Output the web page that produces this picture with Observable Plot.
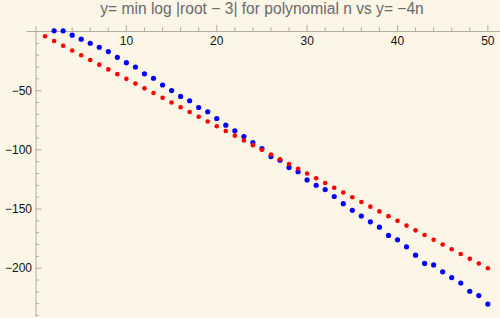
<!DOCTYPE html>
<html>
<head>
<meta charset="utf-8">
<script src="https://cdn.jsdelivr.net/npm/d3@7"></script>
<script src="https://cdn.jsdelivr.net/npm/@observablehq/plot@0.6"></script>
<style>
  html, body { margin: 0; padding: 0; background: #fdf5e6; }
  #wrap { position: relative; width: 500px; height: 318px; overflow: hidden; }
  #title { position: absolute; left: 0; top: 0px; width: 524px; text-align: center;
           font: 15.6px "Liberation Sans", Arial, sans-serif; color: #6a6a6a; white-space: nowrap; }
</style>
</head>
<body>
<div id="wrap"><div id="title">y= min log |root − 3| for polynomial n vs y= −4n</div></div>
<script>
const titleText = "y= min log |root − 3| for polynomial n vs y= −4n";

const blueN = [2,3,4,5,6,7,8,9,10,11,12,13,14,15,16,17,18,19,20,21,22,23,24,25,26,27,28,29,30,31,32,33,34,35,36,37,38,39,40,41,42,43,44,45,46,47,48,49,50];
const blueY = [0.6,0.6,-3.1,-6.5,-9.9,-13.3,-16.9,-21.8,-26.3,-30.0,-35.7,-39.5,-45.2,-49.9,-54.8,-58.5,-64.2,-67.8,-73.5,-79.1,-83.9,-88.7,-93.8,-98.9,-105.7,-108.7,-114.8,-118.4,-125.4,-129.9,-133.6,-139.4,-145.5,-151.1,-155.9,-160.8,-165.3,-172.3,-176.0,-181.9,-189.0,-196.0,-197.2,-203.1,-207.9,-212.5,-219.5,-223.1,-230.3];

const redN = [1,2,3,4,5,6,7,8,9,10,11,12,13,14,15,16,17,18,19,20,21,22,23,24,25,26,27,28,29,30,31,32,33,34,35,36,37,38,39,40,41,42,43,44,45,46,47,48,49,50];
const redY = [-4,-8,-12,-16,-20,-24,-28,-32,-36,-40,-44,-48,-52,-56,-60,-64,-68,-72,-76,-80,-84,-88,-92,-96,-100,-104,-108,-112,-116,-120,-124,-128,-132,-136,-140,-144,-148,-152,-156,-160,-164,-168,-172,-176,-180,-184,-188,-192,-196,-200];

const xMajor = [10,20,30,40,50];
const xMinor = [2,4,6,8,12,14,16,18,22,24,26,28,32,34,36,38,42,44,46,48];
const yMajor = [-50,-100,-150,-200];
const yMinor = [-10,-20,-30,-40,-60,-70,-80,-90,-110,-120,-130,-140,-160,-170,-180,-190,-210,-220,-230,-240];

const blue = blueN.map((n, i) => ({n, y: blueY[i]}));
const red = redN.map((n, i) => ({n, y: redY[i]}));

const axisColor = "#b4ab9d";
const tickColor = "#b4ab9d";
const font = "\"Liberation Sans\", Arial, sans-serif";

const chart = Plot.plot({
  width: 500,
  height: 318,
  marginLeft: 26.5,
  marginRight: 0,
  marginTop: 26.3,
  marginBottom: 1.2,
  style: {background: "transparent", fontFamily: font, overflow: "visible"},
  x: {domain: [-1, 51.4], axis: null},
  y: {domain: [-241.5, 4], axis: null},
  marks: [
    Plot.ruleY([0], {x1: -1, x2: 51.4, stroke: axisColor, strokeWidth: 1}),
    Plot.ruleX([0], {y1: -241.5, y2: 4, stroke: axisColor, strokeWidth: 1}),
    Plot.ruleX(xMajor, {y1: 0, y2: 5.1, stroke: tickColor}),
    Plot.ruleX(xMinor, {y1: 0, y2: 3, stroke: tickColor}),
    Plot.ruleY(yMajor, {x1: 0, x2: 0.66, stroke: tickColor}),
    Plot.ruleY(yMinor, {x1: 0, x2: 0.39, stroke: tickColor}),
    Plot.text(xMajor, {x: d => d, y: 0, text: d => String(d), dy: 10, fontSize: 12, fill: "#111", textAnchor: "middle"}),
    Plot.text(yMajor, {x: 0, y: d => d, text: d => "−" + String(-d), dx: -4, fontSize: 12, fill: "#111", textAnchor: "end"}),
    Plot.dot(blue, {x: "n", y: "y", r: 2.6, fill: "#0000ff", stroke: "none"}),
    Plot.dot(red, {x: "n", y: "y", r: 2.3, fill: "#ff0000", stroke: "none"})
  ]
});
chart.style.position = "absolute";
chart.style.left = "0px";
chart.style.top = "0px";
document.getElementById("wrap").appendChild(chart);
</script>
</body>
</html>
